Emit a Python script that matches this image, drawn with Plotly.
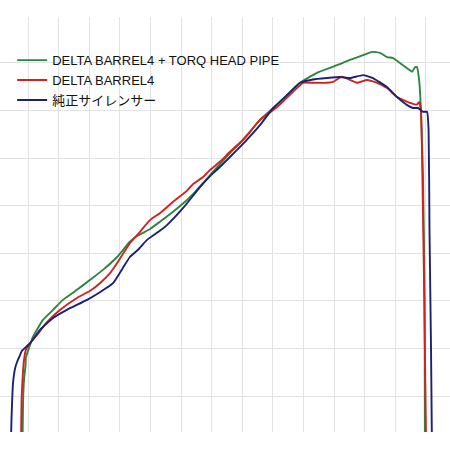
import plotly.graph_objects as go

# Series names
names = ["DELTA BARREL4 + TORQ HEAD PIPE", "DELTA BARREL4", "純正サイレンサー"]
colors = ["#2e8540", "#d62020", "#1c2273"]

# Green: DELTA BARREL4 + TORQ HEAD PIPE (x: grid units, y: grid units)
green_x = [0.82, 0.84, 0.87, 0.92, 0.93, 1.16, 1.49, 1.82, 2.14, 2.60, 3.03, 3.45, 3.91, 4.33,
           4.56, 4.99, 5.31, 5.74, 6.13, 6.39, 6.95, 7.34, 7.70, 8.09, 8.58, 9.24, 9.89, 10.44,
           11.10, 11.52, 11.95, 12.24, 12.50, 12.73, 12.93, 13.25, 13.42, 13.55, 13.65, 13.71,
           13.78, 13.84, 13.91, 13.96, 13.97]
green_y = [-0.03, 0.92, 1.34, 1.65, 1.80, 2.24, 2.60, 2.81, 3.02, 3.23, 3.44, 3.65, 3.92, 4.24,
           4.36, 4.51, 4.66, 4.87, 5.08, 5.24, 5.64, 5.92, 6.17, 6.42, 6.80, 7.18, 7.58, 7.79,
           7.95, 8.06, 8.16, 8.23, 8.21, 8.12, 8.10, 7.95, 7.87, 7.81, 7.91, 7.91,
           7.64, 7.01, 5.54, 3.02, -0.03]

# Red: DELTA BARREL4
red_x = [0.77, 0.79, 0.82, 0.87, 0.93, 1.07, 1.29, 1.62, 2.05, 2.60, 3.03, 3.35, 3.68, 3.94,
         4.33, 4.66, 4.99, 5.31, 5.74, 6.19, 6.39, 6.72, 6.95, 7.27, 7.60, 7.93, 8.25, 8.58,
         9.14, 9.66, 9.99, 10.31, 10.77, 10.97, 11.26, 11.52, 11.75, 12.08, 12.41, 12.73,
         13.06, 13.25, 13.48, 13.71, 13.78, 13.84, 13.89, 13.94, 14.01]
red_y = [-0.03, 0.92, 1.34, 1.76, 1.97, 2.11, 2.28, 2.55, 2.81, 3.06, 3.21, 3.37, 3.58, 3.82,
         4.21, 4.45, 4.70, 4.84, 5.08, 5.31, 5.45, 5.60, 5.75, 5.92, 6.13, 6.32, 6.55, 6.80,
         7.07, 7.39, 7.58, 7.58, 7.58, 7.60, 7.71, 7.64, 7.58, 7.64, 7.58, 7.47,
         7.28, 7.22, 7.16, 7.12, 7.18, 7.01, 5.54, 3.44, -0.03]

# Navy: 純正サイレンサー
navy_x = [0.44, 0.46, 0.51, 0.58, 0.64, 0.74, 0.80, 1.07, 1.39, 1.82, 2.27, 2.93, 3.35, 3.78,
          4.10, 4.33, 4.59, 4.89, 5.31, 5.54, 6.07, 6.62, 6.95, 7.27, 7.83, 8.09, 8.58, 9.01,
          9.46, 9.89, 10.31, 10.77, 11.20, 11.52, 11.95, 12.27, 12.73, 13.06, 13.39, 13.58,
          13.75, 13.91, 14.04, 14.09, 14.12, 14.17, 14.20]
navy_y = [-0.03, 0.50, 1.27, 1.59, 1.71, 1.86, 1.95, 2.11, 2.39, 2.64, 2.81, 3.02, 3.18, 3.37,
          3.69, 3.92, 4.07, 4.28, 4.47, 4.59, 4.95, 5.39, 5.62, 5.81, 6.17, 6.34, 6.69, 7.05,
          7.32, 7.58, 7.65, 7.68, 7.70, 7.68, 7.74, 7.68, 7.49, 7.28, 7.11, 7.05,
          7.05, 6.97, 6.97, 6.59, 4.49, 1.97, -0.03]

series_x = [green_x, red_x, navy_x]
series_y = [green_y, red_y, navy_y]

fig = go.Figure()
for n, c, xs, ys in zip(names, colors, series_x, series_y):
    fig.add_trace(go.Scatter(x=xs, y=ys, mode="lines", name=n,
                             line=dict(color=c, width=1.9, shape="spline", smoothing=0.4)))

fig.update_layout(
    width=450, height=450,
    margin=dict(l=0, r=0, t=17, b=18),
    paper_bgcolor="white", plot_bgcolor="white",
    font=dict(family="Liberation Sans, Arial, Noto Sans CJK JP", size=13, color="#111111"),
    showlegend=True,
    legend=dict(x=0.027, y=0.932, xanchor="left", yanchor="top",
                bgcolor="rgba(0,0,0,0)", borderwidth=0, itemwidth=30,
                font=dict(family="Liberation Sans, Arial, Noto Sans CJK JP", size=13, color="#111111")),
)
fig.update_xaxes(range=[0.085, 14.79], tick0=0, dtick=1, showgrid=True, gridcolor="#e2e2e2",
                 gridwidth=1, zeroline=False, showticklabels=False, ticks="", showline=False)
fig.update_yaxes(range=[0.244, 8.962], tick0=0, dtick=1, showgrid=True, gridcolor="#e2e2e2",
                 gridwidth=1, zeroline=False, showticklabels=False, ticks="", showline=False)

fig.write_html("out.html", config={"displayModeBar": False},
               post_script="document.body.style.margin='0px';")
